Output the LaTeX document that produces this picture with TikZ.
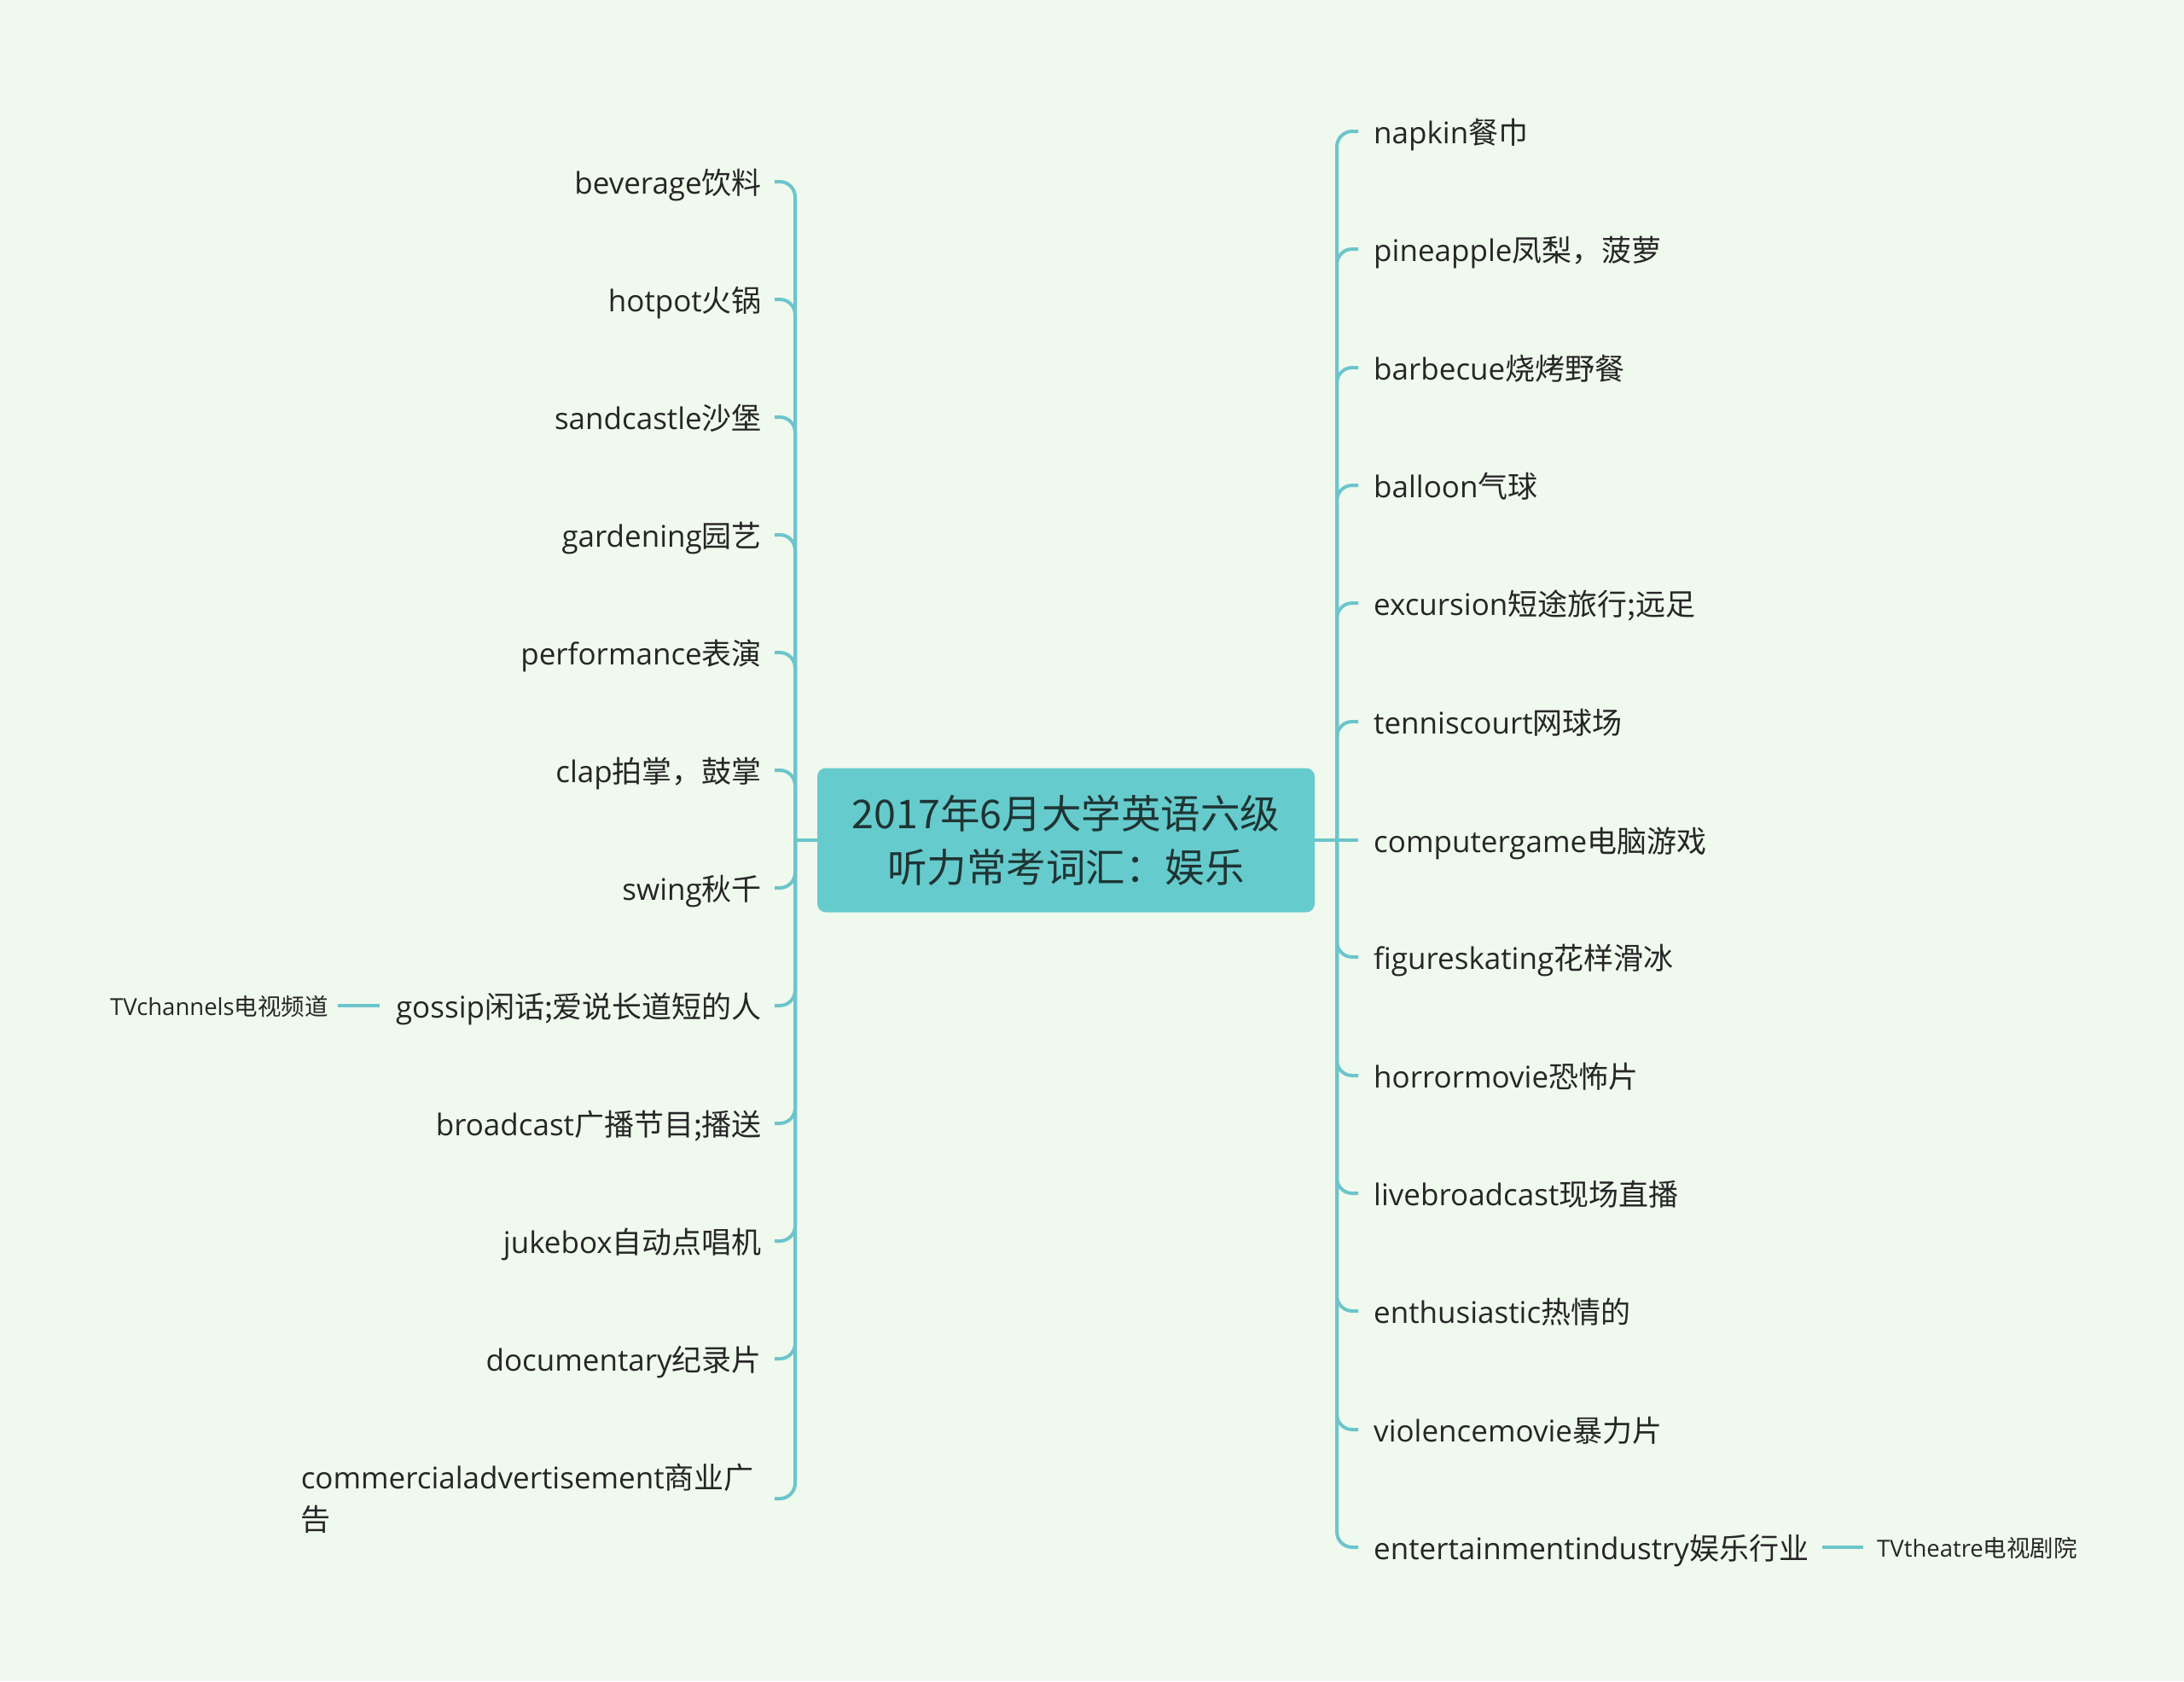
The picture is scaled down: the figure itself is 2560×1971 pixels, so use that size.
\documentclass[tikz,border=0pt]{standalone}
\usepackage{fontspec}
\setmainfont{Open Sans}
\newfontfamily\cjk{Noto Sans CJK SC}
\newcommand\lab[2]{#1{\cjk #2}}
\definecolor{bg}{HTML}{F0F9EE}
\definecolor{ln}{HTML}{6CC5CB}
\definecolor{cf}{HTML}{66CBCC}
\definecolor{tx}{HTML}{262626}
\definecolor{ctx}{HTML}{1F3434}
\begin{document}
\begin{tikzpicture}[x=1pt,y=-1pt,
  conn/.style={draw=ln, line width=4pt, rounded corners=18pt},
  itm/.style={inner sep=0pt, text=tx, text height=31pt, text depth=2pt, font=\fontsize{35}{40}\selectfont},
  lf/.style={itm, anchor=east},
  rt/.style={itm, anchor=west},
  sub/.style={inner sep=0pt, text=tx, text height=24pt, text depth=2pt, font=\fontsize{27.5}{32}\selectfont}]
\fill[bg] (0,0) rectangle (2560,1971);
\useasboundingbox (0,0) rectangle (2560,1971);

\node[fill=cf, rounded corners=10pt, minimum width=583pt, minimum height=169pt, inner sep=0pt,
  align=center, text=ctx, font=\cjk\fontsize{46.5}{63}\selectfont] (c) at (1249.5,985)
  {2017年6月大学英语六级\\听力常考词汇：娱乐};

% left items
\node[lf] (l1) at (893,213) {\lab{beverage}{饮料}};
\node[lf] (l2) at (893,351) {\lab{hotpot}{火锅}};
\node[lf] (l3) at (893,489) {\lab{sandcastle}{沙堡}};
\node[lf] (l4) at (893,627) {\lab{gardening}{园艺}};
\node[lf] (l5) at (893,765) {\lab{performance}{表演}};
\node[lf] (l6) at (893,903) {\lab{clap}{拍掌，鼓掌}};
\node[lf] (l7) at (893,1041) {\lab{swing}{秋千}};
\node[lf] (l8) at (893,1179) {\lab{gossip}{闲话;爱说长道短的人}};
\node[lf] (l9) at (893,1317) {\lab{broadcast}{广播节目;播送}};
\node[lf] (l10) at (893,1455) {\lab{jukebox}{自动点唱机}};
\node[lf] (l11) at (893,1593) {\lab{documentary}{纪录片}};
\node[anchor=east, inner sep=0pt, text=tx, text width=540pt, align=left, font=\fontsize{35}{49}\selectfont] (l12) at (893,1757)
  {\lab{commercialadvertisement}{商业广}\\{\cjk 告}};

% right items
\node[rt] (r1) at (1610,154) {\lab{napkin}{餐巾}};
\node[rt] (r2) at (1610,292) {\lab{pineapple}{凤梨，菠萝}};
\node[rt] (r3) at (1610,431) {\lab{barbecue}{烧烤野餐}};
\node[rt] (r4) at (1610,569) {\lab{balloon}{气球}};
\node[rt] (r5) at (1610,707) {\lab{excursion}{短途旅行;远足}};
\node[rt] (r6) at (1610,846) {\lab{tenniscourt}{网球场}};
\node[rt] (r7) at (1610,985) {\lab{computergame}{电脑游戏}};
\node[rt] (r8) at (1610,1122) {\lab{figureskating}{花样滑冰}};
\node[rt] (r9) at (1610,1261) {\lab{horrormovie}{恐怖片}};
\node[rt] (r10) at (1610,1399) {\lab{livebroadcast}{现场直播}};
\node[rt] (r11) at (1610,1537) {\lab{enthusiastic}{热情的}};
\node[rt] (r12) at (1610,1676) {\lab{violencemovie}{暴力片}};
\node[rt] (r13) at (1610,1814) {\lab{entertainmentindustry}{娱乐行业}};

% sub items
\node[sub, anchor=east] (s1) at (385,1179) {\lab{TVchannels}{电视频道}};
\node[sub, anchor=west] (s2) at (2200,1814) {\lab{TVtheatre}{电视剧院}};

% connectors
\coordinate (L) at (932,985);
\coordinate (R) at (1567,985);
\draw[conn] (c.west) -- (L);
\foreach \n in {l1,l2,l3,l4,l5,l6,l7,l8,l9,l10,l11,l12}
  \draw[conn] (L) |- ([xshift=15pt]\n.east);
\draw[conn] (c.east) -- (R) -- ([xshift=-18pt]r7.west);
\foreach \n in {r1,r2,r3,r4,r5,r6,r8,r9,r10,r11,r12,r13}
  \draw[conn] (R) |- ([xshift=-18pt]\n.west);
\draw[conn] ([xshift=-19pt]l8.west) -- ([xshift=11pt]s1.east);
\draw[conn] ([xshift=16pt]r13.east) -- ([xshift=-16pt]s2.west);
\end{tikzpicture}
\end{document}
